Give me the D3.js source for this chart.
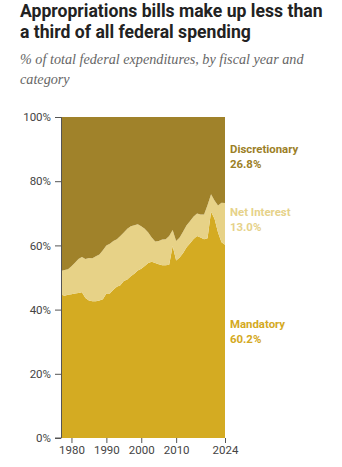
<!DOCTYPE html>
<html>
<head>
<meta charset="utf-8">
<script src="https://cdn.jsdelivr.net/npm/d3@7"></script>
<style>
  body { margin: 0; background: #fff; }
  svg { display: block; }
  .title { font-family: Roboto, sans-serif; font-weight: 700; font-size: 17.6px; fill: #222; }
  .subtitle { font-family: "Liberation Serif", serif; font-style: italic; font-size: 14.2px; fill: #666; }
  .axis text { font-family: Roboto, sans-serif; font-size: 11.5px; fill: #444; }
  .axis line, .axis path { stroke: #555; }
  .lbl { font-family: Roboto, sans-serif; font-weight: 700; font-size: 11.4px; }
</style>
</head>
<body>
<svg id="chart"></svg>
<script>
// Data (% of total federal outlays)
const years = d3.range(1977, 2025);
const mandatory = [44.7, 44.3, 44.6, 44.8, 45.0, 45.2, 45.4, 43.6, 42.8, 42.6,
  42.6, 42.8, 43.2, 45.0, 45.0, 46.2, 47.1, 47.6, 48.9, 49.4,
  50.4, 51.2, 52.2, 52.7, 53.6, 54.5, 54.9, 54.5, 54.1, 53.8,
  53.8, 54.0, 59.8, 55.3, 56.2, 57.6, 59.4, 60.7, 62.0, 62.9,
  62.5, 61.9, 62.2, 70.5, 68.3, 64.0, 61.0, 60.2];
const netInterest = [7.3, 8.0, 8.0, 8.7, 9.6, 10.6, 11.0, 12.2, 13.3, 13.4,
  14.0, 14.4, 15.3, 15.0, 15.5, 15.2, 14.8, 15.3, 15.1, 15.8,
  15.6, 15.1, 14.4, 13.3, 11.6, 9.5, 7.6, 6.7, 7.3, 8.0,
  8.1, 8.9, 5.0, 6.1, 6.3, 6.7, 6.9, 6.9, 7.0, 7.0,
  7.1, 7.7, 10.4, 5.4, 5.7, 8.4, 12.3, 13.0];
const discretionary = [48.0, 47.7, 47.4, 46.5, 45.4, 44.2, 43.6, 44.2, 43.9, 44.0,
  43.4, 42.8, 41.5, 40.0, 39.5, 38.6, 38.1, 37.1, 36.0, 34.8,
  34.0, 33.7, 33.4, 34.0, 34.8, 36.0, 37.5, 38.8, 38.6, 38.2,
  38.1, 37.1, 35.2, 38.6, 37.5, 35.7, 33.7, 32.4, 31.0, 30.1,
  30.4, 30.4, 27.4, 24.1, 26.0, 27.6, 26.7, 26.8];
const keys = ["mandatory", "netInterest", "discretionary"];
const names = ["Mandatory", "Net Interest", "Discretionary"];
const colors = ["#d4ab22", "#e7d287", "#a0822a"];
const labelColors = ["#d4a922", "#e6d28a", "#9c7f27"];
const yTicks = [0, 20, 40, 60, 80, 100];
const xTicks = [1980, 1990, 2000, 2010, 2024];

const W = 342, H = 467;
const margin = { top: 117, right: 117, bottom: 29, left: 61 };
const width = W - margin.left - margin.right;
const height = H - margin.top - margin.bottom;

const root = d3.select("#chart").attr("width", W).attr("height", H);

// Title + subtitle
root.append("text").attr("class", "title").attr("x", 20).attr("y", 17)
  .text("Appropriations bills make up less than");
root.append("text").attr("class", "title").attr("x", 20).attr("y", 38)
  .text("a third of all federal spending");
root.append("text").attr("class", "subtitle").attr("x", 20).attr("y", 64)
  .text("% of total federal expenditures, by fiscal year and");
root.append("text").attr("class", "subtitle").attr("x", 20).attr("y", 84)
  .text("category");

const svg = root.append("g")
  .attr("transform", `translate(${margin.left},${margin.top})`);

const table = years.map((yr, i) => ({
  year: yr,
  mandatory: mandatory[i],
  netInterest: netInterest[i],
  discretionary: discretionary[i]
}));

const stacked = d3.stack().keys(keys).offset(d3.stackOffsetExpand)(table);

const x = d3.scaleLinear().domain([1977, 2024]).range([0, width]);
const y = d3.scaleLinear().domain([0, 1]).range([height, 0]);

const area = d3.area()
  .x(d => x(d.data.year))
  .y0(d => y(d[0]))
  .y1(d => y(d[1]));

svg.selectAll(".layer")
  .data(stacked)
  .enter()
  .append("path")
  .attr("class", "layer")
  .attr("fill", (d, i) => colors[i])
  .attr("d", area);

// Axes
svg.append("g")
  .attr("class", "axis")
  .call(d3.axisLeft(y).tickValues(yTicks.map(v => v / 100))
    .tickFormat(d => Math.round(d * 100) + "%").tickSize(6).tickPadding(4))
  .call(g => g.select(".domain").attr("d", `M-6,0.5H0.5V${height}H-6`));

svg.append("g")
  .attr("class", "axis")
  .attr("transform", `translate(0,${height})`)
  .call(d3.axisBottom(x).tickValues(xTicks).tickFormat(d3.format("d")).tickSize(5).tickPadding(3))
  .call(g => g.select(".domain").remove());

// Right-side labels, last value of each series
const labelY = { mandatory: 328, netInterest: 216, discretionary: 153 };
keys.forEach((k, i) => {
  const last = table[table.length - 1][k];
  const t = root.append("text").attr("class", "lbl")
    .attr("x", 230).attr("y", labelY[k]).attr("fill", labelColors[i]);
  t.append("tspan").attr("x", 230).text(names[i]);
  t.append("tspan").attr("x", 230).attr("dy", 15).text(last.toFixed(1) + "%");
});
</script>
</body>
</html>
